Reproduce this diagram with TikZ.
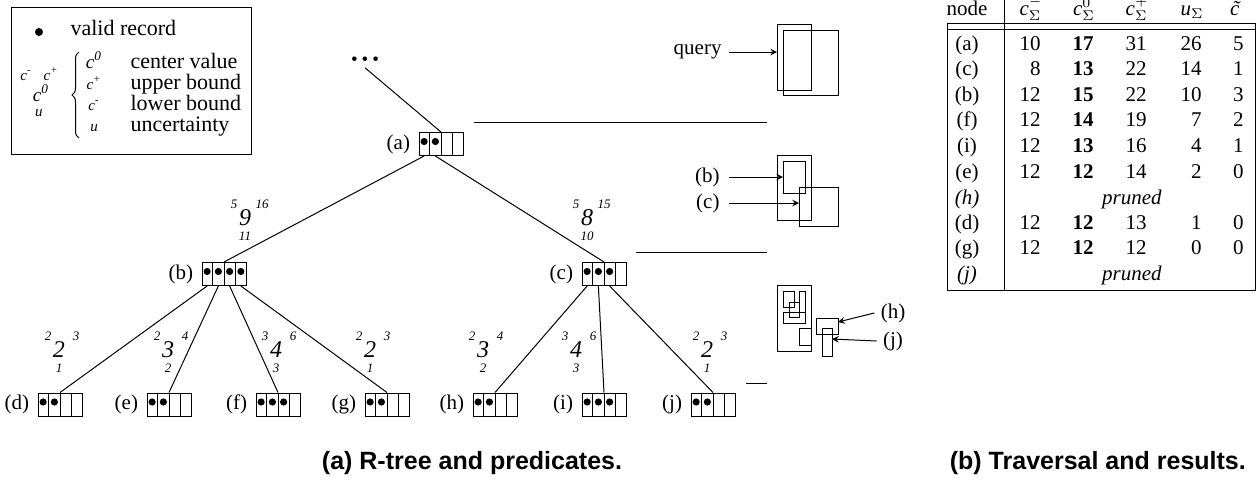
\documentclass[tikz,border=0pt]{standalone}
\usepackage{fontspec}
\setmainfont{Liberation Serif}
\newfontfamily\captionfont{Liberation Sans}
\usetikzlibrary{calc,decorations.pathreplacing}

\tikzset{
  recbox/.style={draw, minimum width=22pt, minimum height=11.5pt, inner sep=0pt},
  predbig/.style={font=\fontsize{12}{12}\selectfont\itshape, inner sep=0pt},
  predsmall/.style={font=\fontsize{6.5}{7}\selectfont\itshape, inner sep=0pt},
  legsym/.style={font=\fontsize{7.5}{8}\selectfont\itshape, inner sep=0pt, anchor=base},
  legtxt/.style={font=\fontsize{11}{13}\selectfont, inner sep=0pt, anchor=base west},
  cell/.style={anchor=base east, inner sep=0pt},
  capt/.style={font=\captionfont\bfseries\fontsize{12.5}{14}\selectfont},
}

% box of four record slots, #4 of them valid
\newcommand{\recordBox}[5]{%
  \node[recbox] (#1) at (#2, #3) {};
  \foreach \k in {1,2,3}
    \draw ($(#1.north west)!\k/4!(#1.north east)$) -- ($(#1.south west)!\k/4!(#1.south east)$);
  \foreach \k in {1,...,#4}
    \fill ($(#1.west)!{(\k-0.5)/4}!(#1.east)$) ++(0,-2.5) circle (1.8pt);
  \foreach \k in {1,...,4}
    \coordinate (#1-\k) at ($(#1.south west)!{(\k-0.5)/4}!(#1.south east)$);
  \node[anchor=east, inner sep=0pt] (#1-lbl) at ([xshift=-4pt]#1.west) {(#5)};
}

% c- (left), c0 (big), c+ (right), u (below)
\newcommand{\predicate}[7]{%
  \node[predbig] (#1-mid) at (#2, #3) {#5};
  \node[predsmall] (#1-lo) at (#2-11, #3-14) {#4};
  \node[predsmall] (#1-hi) at (#2+17, #3-14) {#6};
  \node[predsmall] (#1-unc) at (#2, #3+18) {#7};
}

\begin{document}
\begin{tikzpicture}[x=0.5pt, y=-0.5pt, >=stealth, line width=0.5pt,
  font=\fontsize{10.5}{12}\selectfont]
  \useasboundingbox (0,0) rectangle (1259,483);

  % legend
  \draw (11,7) rectangle (251,154);
  \fill (39,32) circle (2pt);
  \node[legtxt] (valid) at (70,35) {valid record};
  \node[legsym] (leg-lo) at (26,80) {c\textsuperscript{-}};
  \node[legsym] (leg-hi) at (51,80) {c\textsuperscript{+}};
  \node[legsym, font=\fontsize{9.5}{10}\selectfont\itshape] (leg-mid) at (41,101) {c\textsuperscript{0}};
  \node[legsym] (leg-unc) at (39,116) {u};
  \draw[decorate, decoration={brace, amplitude=3.5pt}] (79,138) -- (79,52);
  \node[legsym, font=\fontsize{9.5}{10}\selectfont\itshape] (sym-mid) at (94,68) {c\textsuperscript{0}};
  \node[legsym] (sym-hi) at (94,89) {c\textsuperscript{+}};
  \node[legsym] (sym-lo) at (94,110) {c\textsuperscript{-}};
  \node[legsym] (sym-unc) at (94,131) {u};
  \node[legtxt] (txt-mid) at (130,68) {center value};
  \node[legtxt] (txt-hi) at (130,89) {upper bound};
  \node[legtxt] (txt-lo) at (130,110) {lower bound};
  \node[legtxt] (txt-unc) at (130,131) {uncertainty};

  % R-tree
  \node[inner sep=1pt, font=\fontsize{9.5}{9.5}\selectfont] (dots) at (365,61)
    {\textbullet\hspace{2pt}\textbullet\hspace{2pt}\textbullet};
  \recordBox{a}{441}{144}{2}{a}
  \recordBox{b}{224}{274}{4}{b}
  \recordBox{c}{604}{274}{3}{c}
  \recordBox{d}{60}{404.5}{2}{d}
  \recordBox{e}{169}{404.5}{2}{e}
  \recordBox{f}{278}{404.5}{3}{f}
  \recordBox{g}{387}{404.5}{2}{g}
  \recordBox{h}{495}{404.5}{2}{h}
  \recordBox{i}{604}{404.5}{3}{i}
  \recordBox{j}{713}{404.5}{2}{j}

  \draw (dots.south) -- (a.north);
  \draw (a-1) -- (b.north);
  \draw (a-2) -- (c.north);
  \draw (b-1) -- (d.north);
  \draw (b-2) -- (e.north);
  \draw (b-3) -- (f.north);
  \draw (b-4) -- (g.north);
  \draw (c-1) -- (h.north);
  \draw (c-2) -- (i.north);
  \draw (c-3) -- (j.north);

  \predicate{pb}{245}{218}{5}{9}{16}{11}
  \predicate{pc}{587}{218}{5}{8}{15}{10}
  \predicate{pd}{59}{350}{2}{2}{3}{1}
  \predicate{pe}{168}{350}{2}{3}{4}{2}
  \predicate{pf}{276}{350}{3}{4}{6}{3}
  \predicate{pg}{370}{350}{2}{2}{3}{1}
  \predicate{ph}{483}{350}{2}{3}{4}{2}
  \predicate{pi}{576}{350}{3}{4}{6}{3}
  \predicate{pj}{707}{350}{2}{2}{3}{1}

  % level separators
  \draw (474,122) -- (767,122);
  \draw (636,252) -- (767,252);
  \draw (746,383) -- (767,383);

  % query level
  \draw (777,24) rectangle (811,90);
  \draw (783,30) rectangle (838,95);
  \coordinate (qpt) at (777,52);
  \node[anchor=east, inner sep=0pt] (query) at (722,52) {query};
  \draw[->] ([xshift=3.5pt]query.east) -- (qpt);

  % level of (b) and (c)
  \draw (777,155) rectangle (811,220);
  \draw (783,161) rectangle (805,193);
  \draw (799,187) rectangle (838,226);
  \coordinate (bpt) at (783,177);
  \coordinate (cpt) at (799,203);
  \node[anchor=east, inner sep=0pt] (blab) at (720,177) {(b)};
  \node[anchor=east, inner sep=0pt] (clab) at (720,203) {(c)};
  \draw[->] ([xshift=4.5pt]blab.east) -- (bpt);
  \draw[->] ([xshift=4.5pt]clab.east) -- (cpt);

  % leaf level
  \draw (777,285) rectangle (811,351);
  \foreach \xa/\ya/\xb/\yb in {783/291/794/307, 799/291/805/312, 789/302/799/317,
                                783/312/805/323, 799/328/811/345}
    \draw (\xa,\ya) rectangle (\xb,\yb);
  \draw (816,318) rectangle (838,334);
  \draw (822,328) rectangle (832,356);
  \coordinate (hpt) at (838,322);
  \coordinate (jpt) at (832,339);
  \node[inner sep=0pt] (hlab) at (893,313) {(h)};
  \node[inner sep=0pt] (jlab) at (893,341) {(j)};
  \draw[->] ([xshift=-3pt]hlab.west) -- (hpt);
  \draw[->] ([xshift=-3pt]jlab.west) -- (jpt);

  % table
  \draw (1004,-5) -- (1004,290);
  \draw (947,23) rectangle (1255,290);
  \draw (947,29) -- (1255,29);
  \node[anchor=base] (head-node) at (967,15) {node};
  \node[anchor=base] (head-lo) at (1031,15) {\textit{c}$^{-}_{\Sigma}$};
  \node[anchor=base] (head-mid) at (1084,15) {\textit{c}$^{0}_{\Sigma}$};
  \node[anchor=base] (head-hi) at (1137,15) {\textit{c}$^{+}_{\Sigma}$};
  \node[anchor=base] (head-unc) at (1192,15) {\textit{u}$_{\Sigma}$};
  \node[anchor=base] (head-cnt) at (1239,15) {\textit{\~{c}}};
  \foreach \nm/\vlo/\vzero/\vhi/\vu/\vc/\yy in {a/10/17/31/26/5/50, c/8/13/22/14/1/75,
      b/12/15/22/10/3/101, f/12/14/19/7/2/126, i/12/13/16/4/1/152, e/12/12/14/2/0/178,
      d/12/12/13/1/0/229, g/12/12/12/0/0/254}{
    \node[anchor=base] (row-\nm) at (967,\yy) {(\nm)};
    \node[cell] (row-\nm-lo) at (1041,\yy) {\vlo};
    \node[cell] (row-\nm-mid) at (1094,\yy) {\textbf{\vzero}};
    \node[cell] (row-\nm-hi) at (1147,\yy) {\vhi};
    \node[cell] (row-\nm-unc) at (1202,\yy) {\vu};
    \node[cell] (row-\nm-cnt) at (1244,\yy) {\vc};
  }
  \node[anchor=base] (row-h) at (967,204) {\textit{(h)}};
  \node[anchor=base] (row-h-pruned) at (1132,204) {\textit{pruned}};
  \node[anchor=base] (row-j) at (967,280) {\textit{(j)}};
  \node[anchor=base] (row-j-pruned) at (1132,280) {\textit{pruned}};

  % captions
  \node[capt] (capt-a) at (472,463) {(a) R-tree and predicates.};
  \node[capt, anchor=east] (capt-b) at (1253,463) {(b) Traversal and results.};
\end{tikzpicture}
\end{document}
